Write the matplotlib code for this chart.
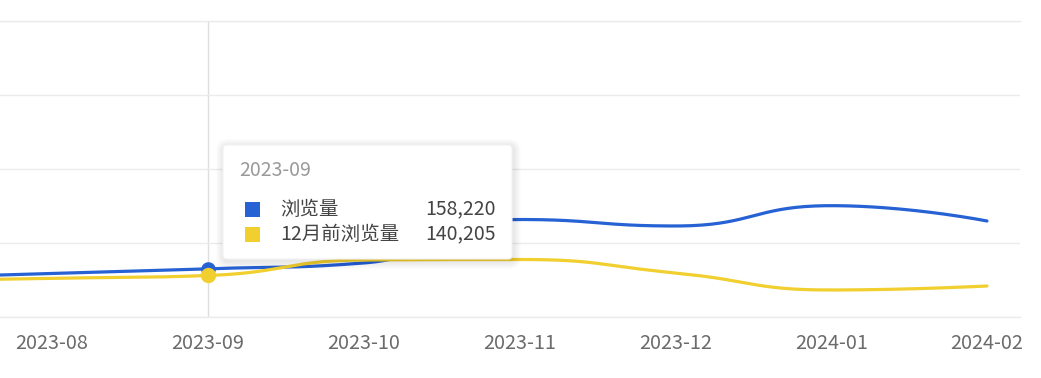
import numpy as np
import matplotlib
matplotlib.use('Agg')
import matplotlib.pyplot as plt
from matplotlib.patches import FancyBboxPatch, Rectangle

plt.rcParams['font.family'] = ['Noto Sans CJK SC', 'DejaVu Sans']

# ---------------- data ----------------
categories = ['2023-07', '2023-08', '2023-09', '2023-10', '2023-11',
              '2023-12', '2024-01', '2024-02']
views = [133400, 145600, 158220, 174000, 291500, 274000, 328900, 287500]
views_prev = [125300, 132600, 140205, 182000, 183400, 147000, 101000, 111800]
series_names = ['浏览量', '12月前浏览量']
y_ticks = [28000, 228000, 428000, 628000, 828000]
hover_index = 2

BLUE = '#2762d4'
YELLOW = '#f0cf2e'
GRID = '#ebebeb'

W, H = 1041, 378
fig = plt.figure(figsize=(W / 100, H / 100), dpi=100)
fig.patch.set_facecolor('white')

ax = fig.add_axes([0, (H - 317) / H, 1020 / W, 296 / H])
xs = np.arange(len(categories))
ax.set_yticks(y_ticks)
ax.tick_params(axis='y', left=False, labelleft=False)
ax.set_xticks(xs)
ax.set_xticklabels(categories)
ax.set_xlim(1 - 52 / 155.8, 7 + 33 / 155.8)
ax.set_ylim(y_ticks[0], y_ticks[-1])
ax.tick_params(axis='x', length=0, pad=11.5, labelsize=14.3, labelcolor='#6b6b6b')
ax.grid(axis='y', color=GRID, lw=1)
for s in ['left', 'right']:
    ax.spines[s].set_visible(False)
for s in ['top', 'bottom']:
    ax.spines[s].set_color(GRID)
    ax.spines[s].set_linewidth(1)


def echarts_smooth(xd, yd, smooth=0.5, n=40):
    """Cubic-bezier smoothing like echarts, computed in display space."""
    pts = ax.transData.transform(np.column_stack([xd, yd]))
    N = len(pts)
    cin = [None] * N
    cout = [None] * N
    for i in range(N):
        x, y = pts[i]
        if i == 0 or i == N - 1:
            cin[i] = (x, y)
            cout[i] = (x, y)
            continue
        px, py = pts[i - 1]
        nx, ny = pts[i + 1]
        vx, vy = nx - px, ny - py
        l0 = np.hypot(x - px, y - py)
        l1 = np.hypot(nx - x, ny - y)
        r = l1 / (l0 + l1)
        c1x = x + vx * smooth * r
        c1y = y + vy * smooth * r
        c1x = max(min(c1x, max(nx, x)), min(nx, x))
        c1y = max(min(c1y, max(ny, y)), min(ny, y))
        vx, vy = c1x - x, c1y - y
        c0x = x - vx * l0 / l1
        c0y = y - vy * l0 / l1
        c0x = max(min(c0x, max(px, x)), min(px, x))
        c0y = max(min(c0y, max(py, y)), min(py, y))
        vx, vy = x - c0x, y - c0y
        c1x = x + vx * l1 / l0
        c1y = y + vy * l1 / l0
        cin[i] = (c0x, c0y)
        cout[i] = (c1x, c1y)
    t = np.linspace(0, 1, n)[:, None]
    segs = []
    for i in range(N - 1):
        p0 = pts[i]
        p1 = np.array(cout[i])
        p2 = np.array(cin[i + 1])
        p3 = pts[i + 1]
        b = ((1 - t) ** 3) * p0 + 3 * ((1 - t) ** 2) * t * p1 + 3 * (1 - t) * t ** 2 * p2 + t ** 3 * p3
        segs.append(b if i == 0 else b[1:])
    curve = np.vstack(segs)
    data = ax.transData.inverted().transform(curve)
    return data[:, 0], data[:, 1]


ax.axvline(hover_index, color='#dedede', lw=1, zorder=1)

cx, cy = echarts_smooth(xs, views)
ax.plot(cx, cy, color=BLUE, lw=2.3, solid_capstyle='round', zorder=3)
cx, cy = echarts_smooth(xs, views_prev)
ax.plot(cx, cy, color=YELLOW, lw=2.3, solid_capstyle='round', zorder=3)

ax.plot(xs[hover_index], views[hover_index], 'o', ms=9.5, color=BLUE, zorder=4)
ax.plot(xs[hover_index], views_prev[hover_index], 'o', ms=10, color=YELLOW, zorder=5)

# ---------------- tooltip overlay ----------------
ov = fig.add_axes([0, 0, 1, 1], zorder=10)
ov.set_xlim(0, W)
ov.set_ylim(H, 0)
ov.axis('off')
ov.patch.set_alpha(0)

bx0, by0, bx1, by1 = 223, 145, 512, 259
for k in range(8, 0, -1):
    ov.add_patch(FancyBboxPatch((bx0 + 1, by0 + 2), bx1 - bx0, by1 - by0,
                                boxstyle=f'round,pad={k},rounding_size={4 + k}',
                                fc='black', ec='none', alpha=0.012))
ov.add_patch(FancyBboxPatch((bx0, by0), bx1 - bx0, by1 - by0,
                            boxstyle='round,pad=0,rounding_size=4',
                            fc='white', ec='#f2f2f2', lw=0.8))

ov.text(239, 170, categories[hover_index], ha='left', va='center',
        fontsize=14, color='#9a9a9a')
rows = [(series_names[0], views[hover_index], BLUE, 209),
        (series_names[1], views_prev[hover_index], YELLOW, 234)]
for name, val, col, yc in rows:
    ov.add_patch(Rectangle((245, yc - 7.5), 15, 15, fc=col, ec='none'))
    ov.text(280, yc, name, ha='left', va='center', fontsize=14, color='#444444')
    ov.text(496, yc, f'{val:,}', ha='right', va='center', fontsize=14, color='#444444')

fig.savefig('out.png', dpi=100, facecolor='white')
